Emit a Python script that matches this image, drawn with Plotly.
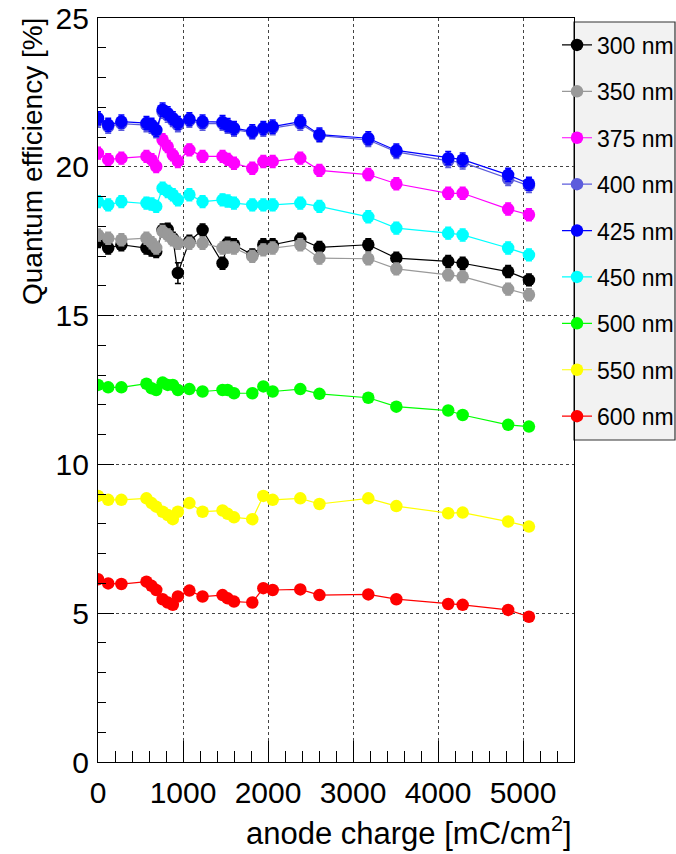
import plotly.graph_objects as go

# anode charge [mC/cm^2]
charge = [0, 120, 275, 570, 630, 685, 760, 820, 880, 940, 1075, 1230, 1465, 1525,
          1600, 1815, 1945, 2055, 2380, 2605, 3180, 3510, 4120, 4290, 4825, 5070]

labels = ["300 nm", "350 nm", "375 nm", "400 nm", "425 nm", "450 nm", "500 nm", "550 nm", "600 nm"]
colors = ["#000000", "#999999", "#ff00ff", "#5c5cdc", "#0000ff", "#00ffff", "#00ff00", "#ffff00", "#ff0000"]

qe_300 = [17.49, 17.27, 17.38, 17.27, 17.20, 17.15, 17.88, 17.90, 17.60, 16.43, 17.50, 17.88, 16.76,
          17.43, 17.38, 17.04, 17.38, 17.38, 17.57, 17.29, 17.38, 16.93, 16.82, 16.76, 16.48, 16.20]
qe_350 = [17.71, 17.60, 17.55, 17.60, 17.45, 17.27, 17.83, 17.71, 17.55, 17.43, 17.43, 17.43, 17.27,
          17.30, 17.27, 16.99, 17.21, 17.27, 17.38, 16.93, 16.91, 16.57, 16.37, 16.31, 15.89, 15.70]
qe_375 = [20.46, 20.24, 20.29, 20.35, 20.24, 20.01, 20.91, 20.68, 20.40, 20.18, 20.57, 20.35, 20.35,
          20.25, 20.12, 19.95, 20.18, 20.18, 20.29, 19.88, 19.74, 19.43, 19.11, 19.11, 18.58, 18.39]
qe_400 = [21.55, 21.35, 21.45, 21.40, 21.35, 21.20, 21.85, 21.72, 21.57, 21.40, 21.55, 21.45, 21.45,
          21.35, 21.25, 21.15, 21.25, 21.30, 21.45, 21.05, 20.90, 20.50, 20.20, 20.15, 19.59, 19.36]
qe_425 = [21.63, 21.41, 21.52, 21.47, 21.41, 21.24, 21.92, 21.80, 21.63, 21.47, 21.60, 21.52, 21.50,
          21.40, 21.30, 21.19, 21.30, 21.35, 21.52, 21.08, 20.96, 20.55, 20.29, 20.24, 19.73, 19.43]
qe_450 = [18.83, 18.72, 18.83, 18.78, 18.75, 18.67, 19.28, 19.17, 19.06, 18.89, 19.06, 18.83, 18.89,
          18.85, 18.78, 18.72, 18.72, 18.72, 18.78, 18.67, 18.32, 17.94, 17.77, 17.71, 17.27, 17.04]
qe_500 = [12.67, 12.59, 12.59, 12.71, 12.56, 12.50, 12.75, 12.67, 12.67, 12.50, 12.53, 12.45, 12.50,
          12.50, 12.39, 12.39, 12.62, 12.45, 12.53, 12.37, 12.24, 11.94, 11.81, 11.66, 11.33, 11.27]
qe_550 = [8.94, 8.81, 8.81, 8.86, 8.70, 8.58, 8.41, 8.30, 8.16, 8.41, 8.70, 8.41, 8.45,
          8.34, 8.22, 8.16, 8.94, 8.81, 8.86, 8.67, 8.86, 8.60, 8.36, 8.38, 8.08, 7.91]
qe_600 = [6.14, 6.00, 5.98, 6.06, 5.92, 5.78, 5.47, 5.36, 5.28, 5.56, 5.76, 5.56, 5.61,
          5.50, 5.39, 5.36, 5.84, 5.78, 5.80, 5.61, 5.63, 5.47, 5.31, 5.28, 5.11, 4.88]

# uncertainties [%]
err_300 = [0.2] * 9 + [0.35] + [0.2] * 16
err_350 = [0.2] * 26
err_375 = [0.2] * 26
err_400 = [0.22] * 26
err_425 = [0.22] * 26
err_450 = [0.2] * 26
err_500 = [0.1] * 26
err_550 = [0.1] * 26
err_600 = [0.1] * 26

series = [qe_300, qe_350, qe_375, qe_400, qe_425, qe_450, qe_500, qe_550, qe_600]
errors = [err_300, err_350, err_375, err_400, err_425, err_450, err_500, err_550, err_600]

FONT = "Liberation Sans, Arial, Helvetica, sans-serif"

fig = go.Figure()
for lab, col, ys, es in zip(labels, colors, series, errors):
    fig.add_trace(go.Scatter(
        x=charge, y=ys, name=lab, mode="lines+markers",
        legendgroup=lab,
        line=dict(color=col, width=1.2),
        marker=dict(color=col, size=12.5, symbol="circle"),
        error_y=dict(type="data", array=es, visible=True, color=col, thickness=1.5, width=3),
    ))

W, H = 676, 854
L, R, T, B = 98, 102, 18, 92
pw, ph = W - L - R, H - T - B

def px2paper_x(px):
    return (px - L) / pw

def px2paper_y(py):
    return (H - B - py) / ph

# legend box
fig.add_shape(type="rect", xref="paper", yref="paper",
              x0=px2paper_x(574), x1=px2paper_x(675), y0=px2paper_y(440), y1=px2paper_y(22),
              fillcolor="#f2f2f2", line=dict(color="#333333", width=1.2), layer="below")

axis_common = dict(
    showline=True, linecolor="#000000", linewidth=1.2, mirror=True,
    ticks="inside", tickcolor="#000000", tickwidth=1,
    showgrid=True, gridcolor="#444444", griddash="dot", gridwidth=1,
    zeroline=False,
    tickfont=dict(family=FONT, size=30, color="#000000"),
)

fig.update_xaxes(range=[0, 5600], dtick=1000, tick0=0, ticklen=21,
                 minor=dict(dtick=200, ticklen=11, ticks="inside", tickcolor="#000000", showgrid=False),
                 ticklabelstandoff=4, **axis_common)
fig.update_yaxes(range=[0, 25], dtick=5, tick0=0, ticklen=16,
                 minor=dict(dtick=1, ticklen=8, ticks="inside", tickcolor="#000000", showgrid=False),
                 ticklabelstandoff=2, **axis_common)

fig.add_annotation(text="anode charge [mC/cm<sup>2</sup>]", xref="paper", yref="paper",
                   x=1.0, y=px2paper_y(853), xanchor="right", yanchor="bottom", showarrow=False,
                   font=dict(family=FONT, size=31, color="#000000"))
fig.add_annotation(text="Quantum efficiency [%]", xref="paper", yref="paper",
                   x=px2paper_x(32), y=px2paper_y(162), xanchor="center", yanchor="middle",
                   textangle=-90, showarrow=False,
                   font=dict(family=FONT, size=28, color="#000000"))

fig.update_layout(
    width=W, height=H,
    margin=dict(l=L, r=R, t=T, b=B, autoexpand=False),
    paper_bgcolor="#ffffff", plot_bgcolor="#ffffff",
    showlegend=True,
    legend=dict(x=px2paper_x(557), y=px2paper_y(23.5), xanchor="left", yanchor="top",
                bgcolor="rgba(0,0,0,0)", borderwidth=0,
                font=dict(family=FONT, size=23, color="#000000"),
                tracegroupgap=13.5, traceorder="grouped", itemwidth=30),
)

fig.write_html("out.html")
